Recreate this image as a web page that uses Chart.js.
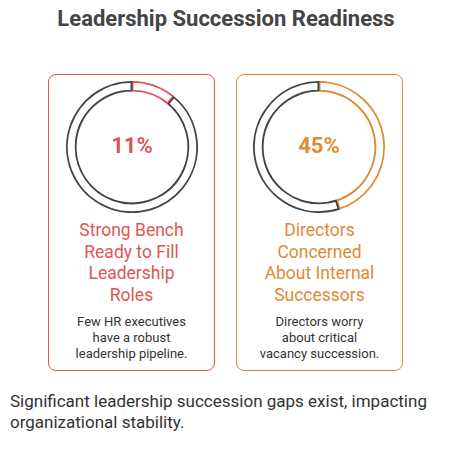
<!DOCTYPE html>
<html>
<head>
<meta charset="utf-8">
<script src="https://cdn.jsdelivr.net/npm/chart.js@4"></script>
<style>
  body { margin: 0; width: 461px; height: 453px; background: #fff; font-family: Roboto, "Noto Sans", sans-serif; position: relative; overflow: hidden; }
  .title { position: absolute; top: 6px; left: 0; width: 452px; text-align: center; font-size: 22px; font-weight: bold; color: #444; }
  .box { position: absolute; top: 74px; width: 165px; height: 295px; border: 1.5px solid; border-radius: 8px; }
  .ring { position: absolute; width: 132px; height: 132px; }
  .pct { position: absolute; top: 133px; width: 120px; text-align: center; font-size: 22px; font-weight: bold; }
  .head { position: absolute; top: 220px; width: 165px; text-align: center; font-size: 17.5px; line-height: 21.5px; }
  .desc { position: absolute; top: 314px; width: 165px; text-align: center; font-size: 13px; line-height: 16px; color: #333; }
  .foot { position: absolute; top: 391px; left: 10px; width: 450px; font-size: 17px; line-height: 21px; color: #333; }
</style>
</head>
<body>
<div class="title">Leadership Succession Readiness</div>
<div class="box" style="left:48px;border-color:#e05656"></div>
<div class="box" style="left:236px;border-color:#e08a35"></div>
<div class="ring" style="left:66px;top:81px"><canvas id="c0"></canvas></div>
<div class="ring" style="left:253px;top:81px"><canvas id="c1"></canvas></div>
<div class="pct" id="p0" style="left:72px;color:#e05656"></div>
<div class="pct" id="p1" style="left:259px;color:#e08a35"></div>
<div class="head" id="h0" style="left:49px;color:#e05656"></div>
<div class="head" id="h1" style="left:237px;color:#e08a35"></div>
<div class="desc" id="d0" style="left:49px"></div>
<div class="desc" id="d1" style="left:237px"></div>
<div class="foot">Significant leadership succession gaps exist, impacting organizational stability.</div>
<script>
const percents = [11, 45];
const headings = [["Strong Bench", "Ready to Fill", "Leadership", "Roles"], ["Directors", "Concerned", "About Internal", "Successors"]];
const notes = [["Few HR executives", "have a robust", "leadership pipeline."], ["Directors worry", "about critical", "vacancy succession."]];
const colors = ["#e05656", "#e08a35"];

percents.forEach(function (p, i) {
    document.getElementById("p" + i).textContent = p + "%";
    document.getElementById("h" + i).innerHTML = headings[i].join("<br>");
    document.getElementById("d" + i).innerHTML = notes[i].join("<br>");
    new Chart(document.getElementById("c" + i), {
        type: "doughnut",
        data: {
            datasets: [{
                data: [p, 100 - p],
                backgroundColor: ["#fff", "#fff"],
                borderColor: [colors[i], "#444"],
                borderWidth: 1.5,
                borderAlign: "inner"
            }]
        },
        options: {
            responsive: true,
            maintainAspectRatio: false,
            animation: false,
            cutout: "84%",
            plugins: { legend: { display: false }, tooltip: { enabled: false } }
        }
    });
});
</script>
</body>
</html>
